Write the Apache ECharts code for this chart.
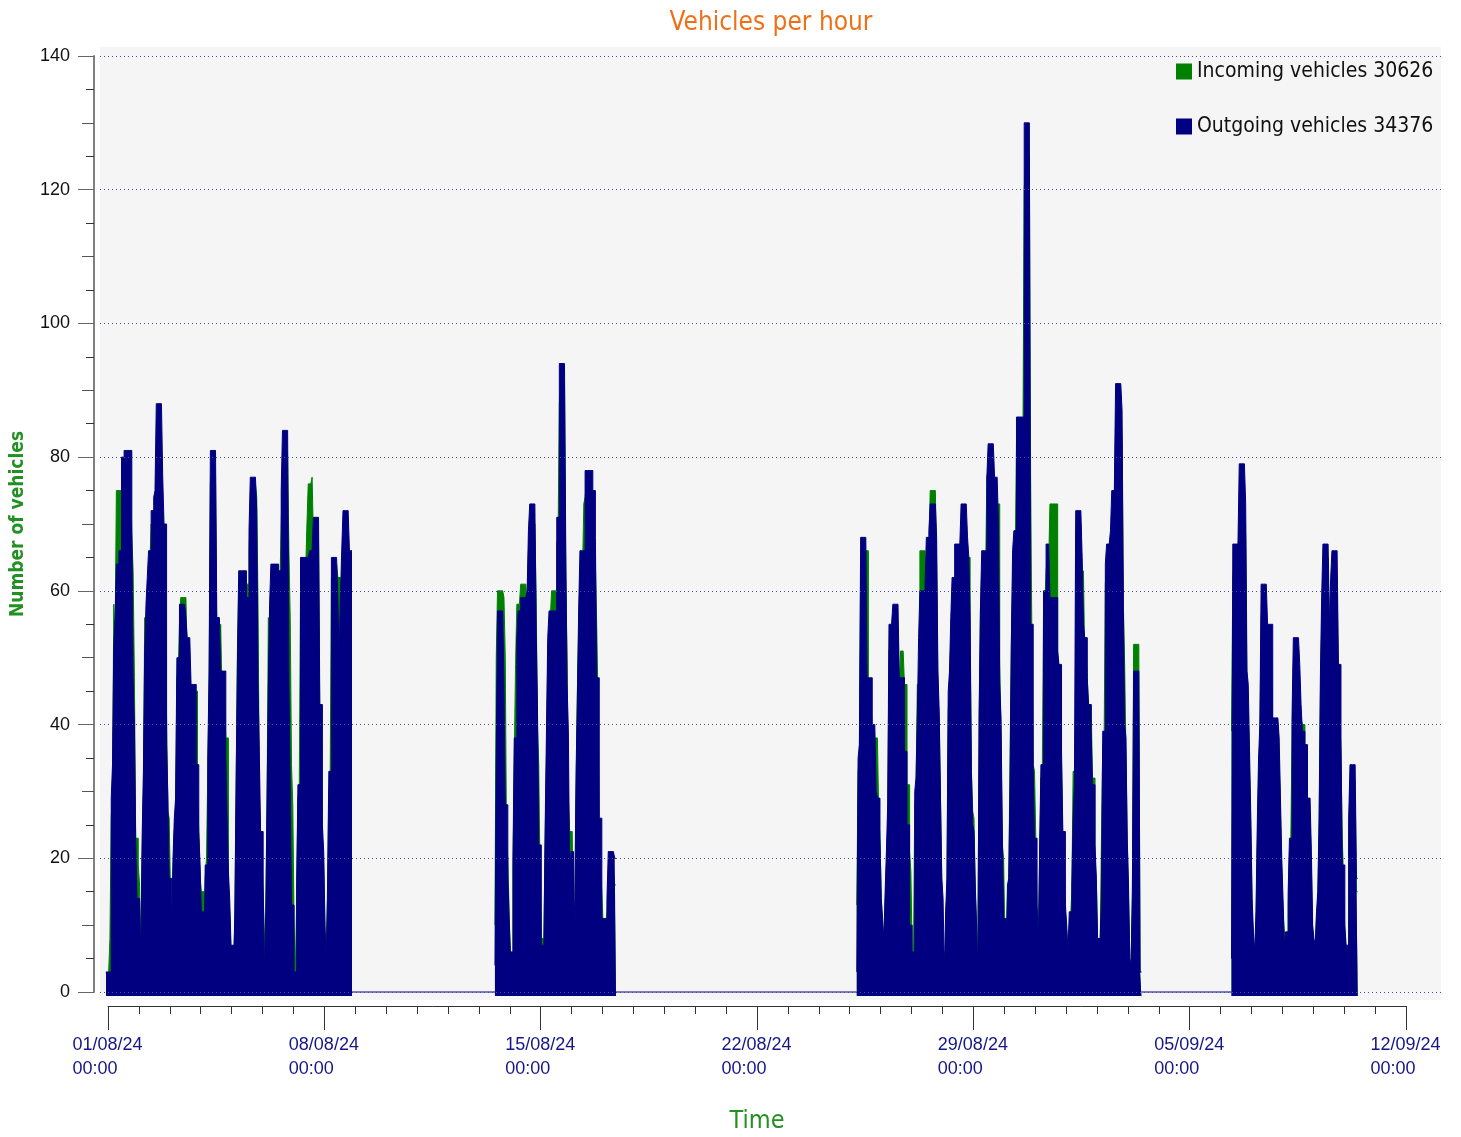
<!DOCTYPE html>
<html>
<head>
<meta charset="utf-8">
<title>Vehicles per hour</title>
<script src="https://cdn.jsdelivr.net/npm/echarts@6/dist/echarts.min.js"></script>
<style>
  html, body { margin: 0; padding: 0; background: #fff; }
  #chart { width: 1461px; height: 1137px; }
</style>
</head>
<body>
<div id="chart"></div>
<script>
// one value per hour, x = hours counted from 01/08/24 00:00
var start1 = -1, start2 = 301, start3 = 582, start4 = 873;

var outgoing1 = [
  3,3,3,3,29,34,52,56,64,64,66,66,80,80,81,81,81,81,81,81,71,47,40,23,14,
  14,14,5,23,33,51,58,62,66,66,72,72,74,75,88,88,88,88,88,77,70,70,37,29,
  17,17,10,20,26,29,50,50,58,58,58,58,58,56,53,53,53,46,46,46,46,34,34,24,
  19,12,12,6,19,19,35,48,81,81,81,81,81,56,56,56,48,48,48,48,35,26,18,14,
  7,7,3,12,32,49,63,63,63,63,63,63,59,59,69,77,77,77,77,77,72,46,36,24,
  24,16,3,12,29,45,58,64,64,64,64,64,64,63,63,75,84,84,84,84,84,46,31,13,
  13,3,3,16,31,31,65,65,65,65,65,65,65,66,66,66,71,71,71,71,71,43,43,25,
  21,10,4,16,33,33,65,65,65,65,65,59,50,59,66,72,72,72,72,72,66,66
];
var incoming1 = [
  3,2,3,8,26,30,58,52,75,75,75,75,76,78,75,78,76,74,77,72,68,63,47,23,23,
  19,16,6,20,31,56,54,60,62,64,70,68,72,71,80,84,82,85,80,72,66,64,41,27,
  26,15,9,18,24,27,47,48,55,59,59,59,59,59,50,51,49,44,42,44,45,45,30,24,
  17,15,15,5,17,20,33,45,76,78,74,79,77,52,54,50,55,45,46,44,38,38,16,12,
  6,6,5,10,30,51,60,58,61,59,60,62,61,61,66,72,74,75,73,76,74,58,30,22,
  21,15,8,10,27,56,55,60,62,61,63,60,62,60,61,70,78,80,79,82,80,66,56,34,
  28,10,3,14,29,30,60,62,64,61,63,70,76,76,76,77,68,69,66,70,67,40,33,23,
  19,9,7,14,30,31,62,60,63,61,64,62,62,50,60,68,70,69,71,68,62,60
];

var outgoing2 = [
  4,35,57,57,57,57,57,46,28,28,17,11,6,6,20,38,38,53,57,57,59,59,59,59,
  59,60,69,73,73,73,73,73,54,43,22,22,7,7,7,25,39,53,57,57,57,57,57,57,
  71,71,94,94,94,94,94,66,46,39,17,21,21,7,14,33,44,57,66,66,66,66,78,78,
  78,78,78,78,75,75,68,47,47,26,26,11,11,11,11,14,21,21,21,21,21,20
];
var incoming2 = [
  10,50,60,60,60,60,60,59,50,22,20,12,5,5,18,35,49,58,58,58,61,61,61,61,
  61,57,66,70,68,71,69,70,59,40,34,17,8,8,8,23,35,50,55,56,60,60,60,60,
  67,68,88,90,86,89,91,62,50,29,24,24,24,7,12,30,45,54,62,64,63,73,74,76,
  72,75,73,74,70,71,64,55,44,24,18,15,10,9,10,12,18,19,17,19,18,16
];

var outgoing3 = [
  3,35,37,68,68,68,68,68,47,47,47,47,40,40,40,30,29,29,23,14,11,8,15,21,
  28,55,55,55,58,58,58,58,58,47,47,47,47,36,36,25,25,10,10,6,6,30,32,41,
  53,60,60,60,60,61,68,68,69,73,73,73,73,73,68,48,42,29,17,14,3,12,17,45,
  48,56,62,62,67,67,67,67,67,73,73,73,73,73,68,65,56,33,25,24,16,10,3,42,
  57,66,66,66,66,77,82,82,82,82,82,77,77,77,70,46,41,24,11,11,6,16,17,31,
  52,66,69,69,86,86,86,86,86,86,130,130,130,130,130,55,55,34,23,23,13,7,22,34,
  34,60,60,67,67,67,59,59,59,59,59,59,51,49,49,36,24,24,13,10,6,12,12,16,
  26,31,72,72,72,72,72,65,55,53,53,47,43,43,39,31,31,22,17,8,8,8,14,39,
  39,64,67,67,67,69,75,75,75,91,91,91,91,91,87,58,40,38,23,16,5,4,15,48,
  48,48,48,48,3
];
var incoming3 = [
  13,33,35,64,62,65,63,66,66,44,45,44,38,37,38,38,38,27,23,14,10,7,13,19,
  25,51,52,50,55,54,56,55,54,45,51,51,51,46,46,31,31,21,18,6,5,28,30,46,
  46,66,66,66,66,58,64,65,66,75,75,75,75,75,64,45,40,29,16,6,6,11,15,42,
  46,53,60,62,62,62,64,63,65,70,68,71,69,70,65,65,52,33,27,26,15,10,5,40,
  57,63,62,64,62,77,78,80,77,79,78,74,75,73,73,49,38,22,20,8,5,14,16,35,
  52,62,66,65,82,80,83,81,84,82,120,124,118,122,125,77,52,34,33,23,13,7,20,32,
  31,57,58,63,65,64,73,73,73,73,73,73,51,46,47,34,22,21,12,9,5,10,11,15,
  33,33,68,70,67,69,70,62,63,50,51,47,41,40,43,32,32,20,17,7,8,7,23,37,
  36,61,64,63,65,66,71,72,70,86,88,85,87,88,82,58,49,36,23,14,5,4,14,52,
  52,52,52,52,3
];

var outgoing4 = [
  5,67,67,67,67,67,79,79,79,79,79,73,48,46,36,26,14,9,6,12,25,35,40,61,
  61,61,61,61,55,55,55,55,41,41,41,41,41,38,29,20,14,7,9,9,15,23,23,41,
  53,53,53,53,53,49,43,39,39,37,37,29,29,29,21,10,8,7,12,15,26,47,59,67,
  67,67,67,67,55,62,66,66,66,66,66,49,49,38,19,19,10,7,7,26,34,34,34,34,34,17
];
var incoming4 = [
  39,62,64,63,61,65,72,75,74,76,73,68,44,42,33,24,12,8,5,10,22,32,37,56,
  58,55,57,56,51,52,50,53,38,39,37,40,38,35,27,18,12,9,8,8,13,21,22,38,
  49,51,50,52,49,46,41,40,40,35,34,27,28,26,19,9,7,6,11,13,24,44,55,63,
  62,64,61,65,52,58,62,63,61,64,62,46,45,35,23,17,9,6,6,24,31,32,30,33,31,15
];

var yTicks = [0, 20, 40, 60, 80, 100, 120, 140];
var xTickDates = ['01/08/24', '08/08/24', '15/08/24', '22/08/24', '29/08/24', '05/09/24', '12/09/24'];
var xTickTime = '00:00';

var inName = 'Incoming vehicles 30626';
var outName = 'Outgoing vehicles 34376';

var segStarts = [start1, start2, start3, start4];
var outSegs = [outgoing1, outgoing2, outgoing3, outgoing4];
var inSegs = [incoming1, incoming2, incoming3, incoming4];

// pixel frame: axes box and the grey plot box around it
var axL = 108, axR = 1406, axT = 56, axB = 992;
var boxL = 100, boxR = 1441, boxT = 47, boxB = 1000;
var hPerPx = 1008 / (axR - axL);
var vPerPx = 140 / (axB - axT);

// hourly bars of one segment as a stepped outline
function steps(start, vals) {
  var d = vals.map(function (v, i) { return [start + i - 0.5, v]; });
  d.push([start + vals.length - 0.5, vals[vals.length - 1]]);
  return d;
}

function areaSeries(name, color, z, start, vals) {
  return {
    name: name, type: 'line', xAxisIndex: 0, yAxisIndex: 0, z: z, silent: true,
    data: steps(start, vals), step: 'end', showSymbol: false, symbol: 'none',
    color: color,
    lineStyle: { color: color, width: 1 },
    areaStyle: { color: color, opacity: 1, origin: -0.6 }
  };
}

var series = [];

// thin zero line through the hours without data, gridlines ride on the first one
for (var k = 1; k < segStarts.length; k++) {
  var s = {
    name: 'zero' + k, type: 'line', xAxisIndex: 0, yAxisIndex: 0, z: 1, silent: true,
    data: [[segStarts[k - 1] + outSegs[k - 1].length - 0.5, 0], [segStarts[k] - 0.5, 0]],
    showSymbol: false, symbol: 'none', color: '#000080',
    lineStyle: { color: '#000080', width: 1 }
  };
  if (k === 1) {
    s.markLine = {
      silent: true, symbol: 'none', label: { show: false },
      lineStyle: { color: '#4646b4', type: [1, 3], width: 1 },
      data: yTicks.map(function (v) { return { yAxis: v }; })
    };
  }
  series.push(s);
}
inSegs.forEach(function (vals, k) { series.push(areaSeries(inName, '#008000', 2, segStarts[k], vals)); });
outSegs.forEach(function (vals, k) { series.push(areaSeries(outName, '#000080', 3, segStarts[k], vals)); });

var labelFont = 'Liberation Sans, Arial, sans-serif';
var textFont = 'DejaVu Sans Condensed, DejaVu Sans, sans-serif';

var chart = echarts.init(document.getElementById('chart'));

var option = {
  animation: false,
  backgroundColor: '#ffffff',
  title: {
    text: 'Vehicles per hour',
    left: 766,
    top: 5,
    textAlign: 'center',
    textStyle: { color: '#f07018', fontSize: 26, fontWeight: 'normal', fontFamily: textFont }
  },
  legend: {
    data: [inName, outName],
    orient: 'vertical',
    left: 1171,
    top: 56,
    icon: 'rect',
    itemWidth: 16,
    itemHeight: 16,
    itemGap: 34,
    textStyle: { fontSize: 21, lineHeight: 16, color: '#111', fontFamily: textFont }
  },
  grid: [
    { left: boxL, top: boxT, width: boxR - boxL, height: boxB - boxT, outerBoundsMode: 'none',
      show: true, backgroundColor: '#f5f5f5', borderWidth: 0 },
    { left: axL, top: axT, width: axR - axL, height: axB - axT, outerBoundsMode: 'none', show: false }
  ],
  xAxis: [
    { gridIndex: 0, type: 'value', show: false, position: 'bottom',
      min: -(axL - boxL) * hPerPx, max: 1008 + (boxR - axR) * hPerPx },
    { gridIndex: 1, type: 'value', position: 'bottom', min: 0, max: 1008, interval: 24, offset: 14,
      axisLine: { show: true, onZero: false, lineStyle: { color: '#333', width: 1 } },
      axisTick: { show: true, length: 8, lineStyle: { color: '#333' } },
      axisLabel: { show: false }, splitLine: { show: false } },
    { gridIndex: 1, type: 'value', position: 'bottom', min: 0, max: 1008, interval: 168, offset: 14,
      axisLine: { show: false, onZero: false },
      axisTick: { show: true, length: 24, lineStyle: { color: '#333' } },
      splitLine: { show: false },
      axisLabel: {
        margin: 27,
        formatter: function (v) {
          var d = xTickDates[Math.round(v / 168)];
          return '{d|' + d + '}\n{d|' + xTickTime + '}';
        },
        rich: { d: { width: 71, align: 'left', fontSize: 18, lineHeight: 24,
                     color: '#161688', fontFamily: labelFont } }
      },
      name: 'Time', nameLocation: 'middle', nameGap: 103,
      nameTextStyle: { color: '#239023', fontSize: 25, fontFamily: textFont } }
  ],
  yAxis: [
    { gridIndex: 0, type: 'value', show: false, position: 'left',
      min: -(boxB - axB) * vPerPx, max: 140 + (axT - boxT) * vPerPx },
    { gridIndex: 1, type: 'value', position: 'left', min: 0, max: 140, interval: 5, offset: 14,
      axisLine: { show: true, onZero: false, lineStyle: { color: '#808080', width: 2 } },
      axisTick: { show: true, length: 8, lineStyle: { color: '#333' } },
      axisLabel: { show: false }, splitLine: { show: false } },
    { gridIndex: 1, type: 'value', position: 'left', min: 0, max: 140, interval: 10, offset: 14,
      axisLine: { show: false, onZero: false },
      axisTick: { show: true, length: 12, lineStyle: { color: '#555' } },
      axisLabel: { show: false }, splitLine: { show: false } },
    { gridIndex: 1, type: 'value', position: 'left', min: 0, max: 140, interval: 20, offset: 14,
      axisLine: { show: false, onZero: false },
      axisTick: { show: true, length: 16, lineStyle: { color: '#666' } },
      splitLine: { show: false },
      axisLabel: { margin: 24, fontSize: 18, color: '#111', fontFamily: labelFont },
      name: 'Number of vehicles', nameLocation: 'middle', nameGap: 66,
      nameTextStyle: { color: '#229022', fontSize: 19, fontWeight: 'bold', fontFamily: textFont } }
  ],
  series: series
};

chart.setOption(option);
</script>
</body>
</html>
